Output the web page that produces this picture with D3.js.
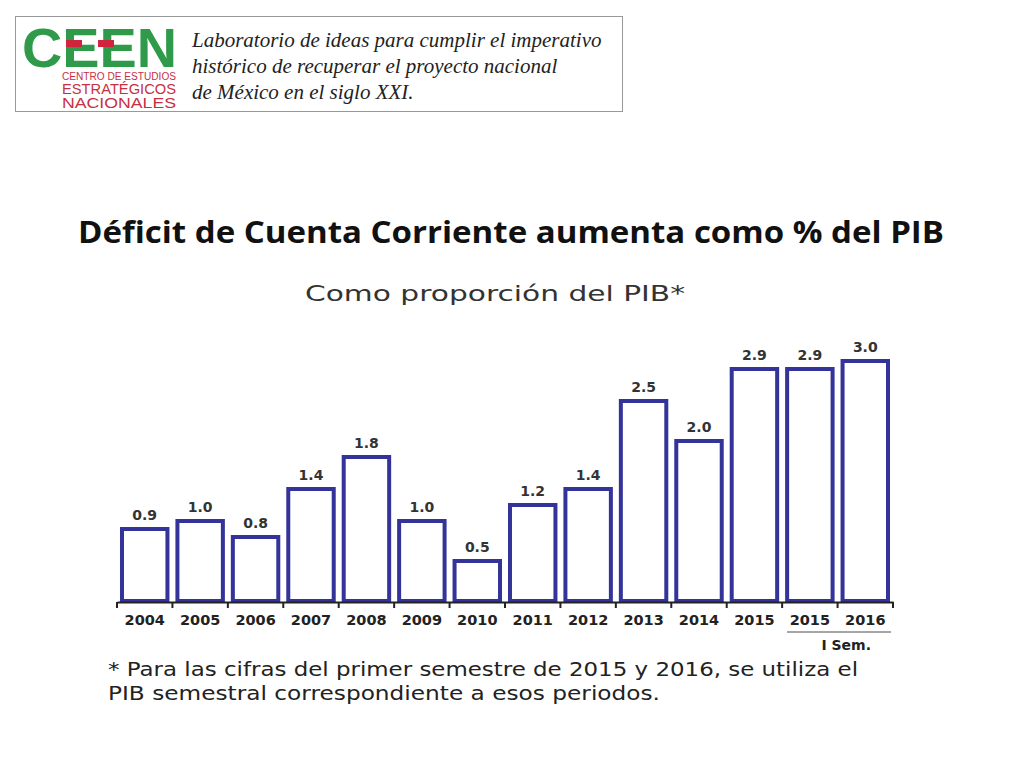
<!DOCTYPE html>
<html><head><meta charset="utf-8">
<script src="https://d3js.org/d3.v7.min.js"></script>
<style>body{margin:0;background:#fff}</style>
</head><body>
<script>
// chart data
const years = ["2004","2005","2006","2007","2008","2009","2010","2011","2012","2013","2014","2015","2015 ","2016"];
const deficit = [0.9, 1.0, 0.8, 1.4, 1.8, 1.0, 0.5, 1.2, 1.4, 2.5, 2.0, 2.9, 2.9, 3.0];
const headerLines = ["Laboratorio de ideas para cumplir el imperativo", "histórico de recuperar el proyecto nacional", "de México en el siglo XXI."];

const svg = d3.select("body").append("svg").attr("width", 1024).attr("height", 768);

// header box with logo
svg.append("rect").attr("x", 15.5).attr("y", 16.5).attr("width", 607).attr("height", 95)
    .attr("fill", "#fff").attr("stroke", "#999");
svg.append("text").attr("x", 22).attr("y", 67).attr("font-family", "Liberation Sans Narrow, Liberation Sans")
    .attr("font-weight", "bold").attr("font-size", 56).attr("fill", "#2e9a4a")
    .attr("textLength", 155).attr("lengthAdjust", "spacingAndGlyphs").text("CEEN");
svg.append("rect").attr("x", 66).attr("y", 40).attr("width", 16).attr("height", 7).attr("fill", "#d2233c");
svg.append("rect").attr("x", 98).attr("y", 40).attr("width", 16).attr("height", 7).attr("fill", "#d2233c");
const logoSub = [["CENTRO DE ESTUDIOS", 80, 10], ["ESTRATÉGICOS", 94, 14], ["NACIONALES", 108, 14]];
logoSub.forEach(([t, yy, fs]) => {
    svg.append("text").attr("x", 176).attr("y", yy).attr("text-anchor", "end")
        .attr("font-family", "Liberation Sans Narrow, Liberation Sans")
        .attr("font-size", fs).attr("fill", "#c8303f")
        .attr("textLength", 114).attr("lengthAdjust", "spacingAndGlyphs").text(t);
});
headerLines.forEach((t, i) => {
    svg.append("text").attr("x", 192).attr("y", 47 + i * 26)
        .attr("font-family", "Liberation Serif").attr("font-style", "italic")
        .attr("font-size", 21).attr("fill", "#222").text(t);
});

// titles
svg.append("text").attr("x", 511).attr("y", 243).attr("text-anchor", "middle")
    .attr("font-family", "Open Sans, Liberation Sans").attr("font-weight", "bold")
    .attr("font-size", 30).attr("fill", "#111")
    .attr("textLength", 866).attr("lengthAdjust", "spacingAndGlyphs")
    .text("Déficit de Cuenta Corriente aumenta como % del PIB");
svg.append("text").attr("x", 305).attr("y", 301)
    .attr("font-family", "DejaVu Sans").attr("font-size", 22).attr("fill", "#333")
    .attr("textLength", 380).attr("lengthAdjust", "spacingAndGlyphs").text("Como proporción del PIB*");

// scales
const x = d3.scaleBand().domain(years).range([117, 893]).paddingInner(0.18).paddingOuter(0.09);
const y = d3.scaleLinear().domain([0, 3]).range([601, 361]);

svg.selectAll(".bar").data(years).join("rect")
    .attr("x", d => x(d)).attr("width", x.bandwidth())
    .attr("y", (d, i) => y(deficit[i])).attr("height", (d, i) => y(0) - y(deficit[i]))
    .attr("fill", "#fff").attr("stroke", "#33339a").attr("stroke-width", 4);

svg.selectAll(".val").data(years).join("text")
    .attr("x", d => x(d) + x.bandwidth() / 2).attr("y", (d, i) => y(deficit[i]) - 9)
    .attr("text-anchor", "middle").attr("font-family", "DejaVu Sans").attr("font-weight", "bold")
    .attr("font-size", 14).attr("fill", "#333").text((d, i) => deficit[i].toFixed(1));

// axis
const axis = svg.append("g").attr("transform", "translate(0,602)")
    .call(d3.axisBottom(x).tickSize(0).tickPadding(13));
axis.select(".domain").attr("stroke", "#222").attr("stroke-width", 2);
axis.selectAll("text").attr("font-family", "DejaVu Sans").attr("font-weight", "bold")
    .attr("font-size", 14.5).attr("fill", "#222");
const edges = years.map(d => x(d) - x.step() * x.paddingInner() / 2).concat([893]);
edges[0] = 117;
axis.selectAll(".edge").data(edges).join("line")
    .attr("x1", d => d).attr("x2", d => d).attr("y1", 0).attr("y2", 6)
    .attr("stroke", "#222").attr("stroke-width", 2);

svg.append("line").attr("x1", 787).attr("x2", 891).attr("y1", 632).attr("y2", 632).attr("stroke", "#888").attr("stroke-width", 1.5);
svg.append("text").attr("x", 871).attr("y", 650).attr("text-anchor", "end")
    .attr("font-family", "DejaVu Sans").attr("font-weight", "bold").attr("font-size", 14).attr("fill", "#222").text("I Sem.");

svg.append("text").attr("x", 108).attr("y", 676).attr("font-family", "DejaVu Sans").attr("font-size", 20).attr("fill", "#222")
    .attr("textLength", 750).attr("lengthAdjust", "spacingAndGlyphs").text("* Para las cifras del primer semestre de 2015 y 2016, se utiliza el");
svg.append("text").attr("x", 108).attr("y", 700).attr("font-family", "DejaVu Sans").attr("font-size", 20).attr("fill", "#222")
    .attr("textLength", 552).attr("lengthAdjust", "spacingAndGlyphs").text("PIB semestral correspondiente a esos periodos.");
</script>
</body></html>
